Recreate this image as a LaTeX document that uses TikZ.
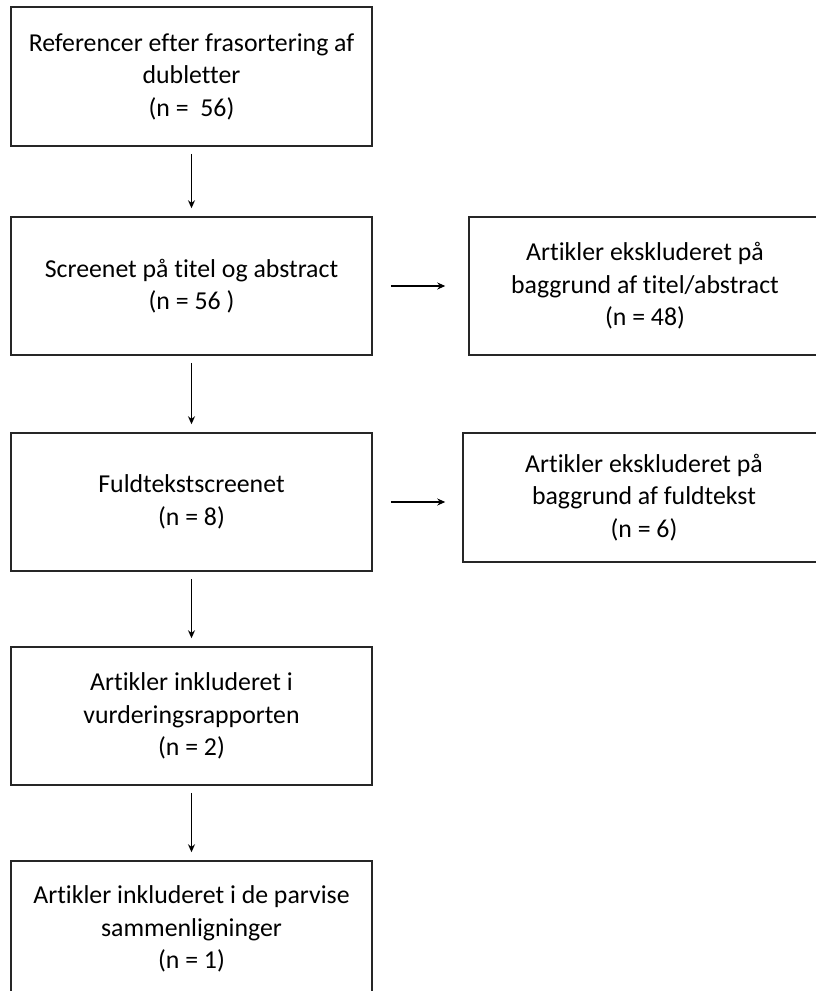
\documentclass[tikz,border=0pt]{standalone}
\usepackage{fontspec}
\setmainfont{Carlito}[Ligatures=NoCommon]
\usetikzlibrary{arrows.meta}

\begin{document}
\begin{tikzpicture}[x=1pt,y=-1pt,>={Stealth[length=8pt,width=7pt]},
  every node/.style={font=\fontsize{25.8}{32.5}\selectfont},
  box/.style={draw=black!85,line width=1.5pt,align=center,inner sep=0pt,minimum height=138pt},
  flow/.style={->,line width=1.2pt,shorten <=7pt,shorten >=8pt}]
  \useasboundingbox (0,0) rectangle (815,991);
  % main column
  \node[box,minimum width=361pt,minimum height=139pt] (ref) at (191.5,76.5)
    {Referencer efter frasortering af\\dubletter\\(n =\ \ 56)};
  \node[box,minimum width=361pt] (screen) at (191.5,286)
    {Screenet på titel og abstract\\(n = 56\ )};
  \node[box,minimum width=361pt] (fuld) at (191.5,502)
    {Fuldtekstscreenet\\(n = 8)};
  \node[box,minimum width=361pt] (vurd) at (191.5,716)
    {Artikler inkluderet i\\vurderingsrapporten\\(n = 2)};
  \node[box,minimum width=361pt,minimum height=136pt] (parvis) at (191.5,929)
    {Artikler inkluderet i de parvise\\sammenligninger\\(n = 1)};
  % excluded
  \node[box,minimum width=352pt] (excl1) at (645,286)
    {Artikler ekskluderet på\\baggrund af titel/abstract\\(n = 48)};
  \node[box,minimum width=362pt,minimum height=129pt] (excl2) at (644,497.5)
    {Artikler ekskluderet på\\baggrund af fuldtekst\\(n = 6)};
  % arrows
  \draw[flow] (ref) -- (screen);
  \draw[flow] (screen) -- (fuld);
  \draw[flow] (fuld) -- (vurd);
  \draw[flow] (vurd) -- (parvis);
  \draw[flow,shorten <=18pt,shorten >=23pt] (screen.east) -- (screen.east -| excl1.west);
  \draw[flow,shorten <=18pt,shorten >=17pt] (fuld.east) -- (fuld.east -| excl2.west);
\end{tikzpicture}
\end{document}
